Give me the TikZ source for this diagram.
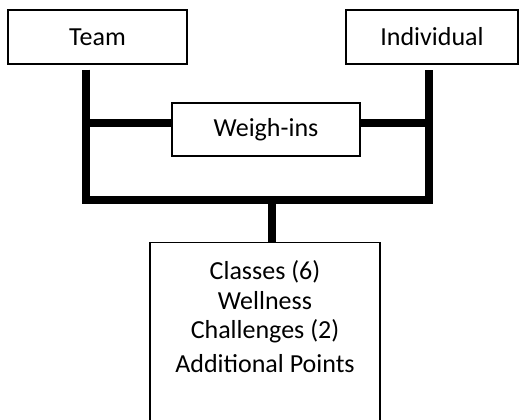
\documentclass[tikz,border=0pt]{standalone}
\usepackage{fontspec}
\setmainfont{Carlito}
\usetikzlibrary{positioning}

\begin{document}
\begin{tikzpicture}[
	box/.style={draw, line width=1pt, minimum height=1.35cm, inner sep=0pt,
		font=\fontsize{18.5}{21.2}\selectfont},
	bar/.style={line width=5.7pt, line join=miter}]
	\useasboundingbox (0,0) rectangle (13,10.475);
	\clip (0,0) rectangle (13,10.475);

	\node[box, minimum width=4.475cm] (team) at (2.4375,9.55) {Team};
	\node[box, minimum width=4.3cm] (indiv) at (10.8,9.55) {Individual};
	\node[box, minimum width=4.7cm, minimum height=1.325cm] (weigh) at (6.65,7.2375) {Weigh-ins};
	\node[box, minimum width=5.75cm, minimum height=4.75cm, anchor=north] (classes) at (6.625,4.425) {};
	\node[below=0.45cm of classes.north, anchor=north, align=center, inner sep=0pt,
		font=\fontsize{18.5}{21.2}\selectfont] (list)
		{Classes (6)\\Wellness\\Challenges (2)\\[3pt]Additional Points};

	\coordinate (tl) at (2.15,5.475);
	\coordinate (tr) at (10.725,5.475);
	\coordinate (wl) at (2.15,7.4);
	\coordinate (wr) at (10.725,7.4);
	\coordinate (mid) at (6.8,5.475);

	% frame
	\draw[bar] ([yshift=-0.125cm]team.south -| tl) -- (tl) -- (tr) -- ([yshift=-0.125cm]indiv.south -| tr);
	\draw[bar] (wl) -- (wl -| weigh.west);
	\draw[bar] (wr) -- (wr -| weigh.east);
	\draw[bar] (mid) -- (mid |- classes.north);
\end{tikzpicture}
\end{document}
